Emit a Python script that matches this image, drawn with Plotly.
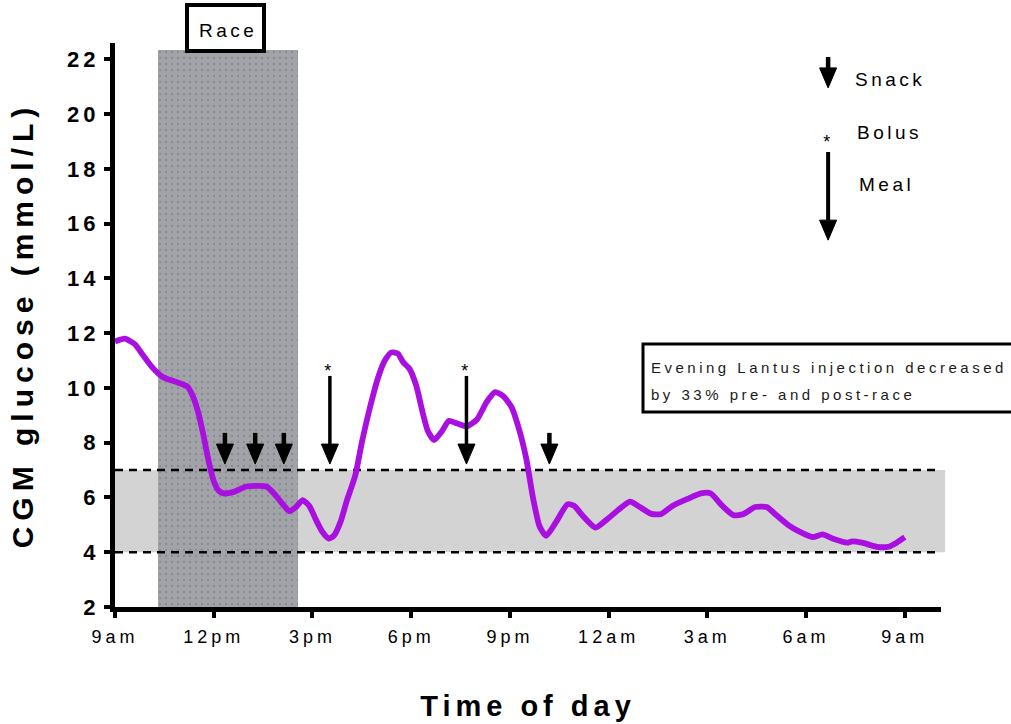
import plotly.graph_objects as go

# ---------------- data ----------------
# hours since 9am (day 1) and CGM glucose (mmol/L)
hours = [0.0, 0.3, 0.6, 0.85, 1.1, 1.45, 1.9, 2.2, 2.4, 2.55, 2.7, 2.85, 3.0, 3.15, 3.3,
         3.6, 4.0, 4.6, 4.9, 5.1, 5.3, 5.5, 5.7, 5.9, 6.1, 6.3, 6.5, 6.65, 6.85, 7.05,
         7.3, 7.5, 7.75, 8.0, 8.2, 8.4, 8.6, 8.75, 8.95, 9.15, 9.35, 9.5, 9.7, 9.95,
         10.15, 10.4, 10.7, 11.0, 11.3, 11.55, 11.8, 12.05, 12.3, 12.5, 12.7, 12.9,
         13.1, 13.4, 13.75, 13.95, 14.2, 14.6, 14.95, 15.3, 15.65, 15.95, 16.3, 16.6,
         16.95, 17.4, 17.8, 18.1, 18.45, 18.8, 19.1, 19.45, 19.8, 20.1, 20.45, 20.8,
         21.2, 21.5, 21.8, 22.25, 22.4, 22.7, 23.15, 23.5, 23.75, 24.0]
glucose = [11.7, 11.8, 11.6, 11.2, 10.8, 10.4, 10.2, 10.05, 9.6, 9.0, 8.2, 7.3, 6.6, 6.25, 6.15,
           6.2, 6.4, 6.4, 6.05, 5.75, 5.5, 5.65, 5.9, 5.7, 5.2, 4.75, 4.5, 4.6, 5.1, 5.9,
           6.8, 8.0, 9.3, 10.4, 11.0, 11.3, 11.25, 10.95, 10.7, 10.1, 9.1, 8.45, 8.1, 8.45,
           8.8, 8.7, 8.6, 8.85, 9.5, 9.85, 9.7, 9.3, 8.4, 7.4, 6.0, 4.95,
           4.6, 5.1, 5.75, 5.7, 5.35, 4.9, 5.2, 5.55, 5.85, 5.65, 5.4, 5.4,
           5.7, 5.95, 6.15, 6.15, 5.7, 5.35, 5.4, 5.65, 5.65, 5.35, 5.0, 4.75,
           4.55, 4.65, 4.5, 4.35, 4.4, 4.35, 4.2, 4.2, 4.35, 4.55]

snack_times = [3.34, 4.26, 5.13, 13.2]
meal_bolus_times = [6.53, 10.68]

race_start = 1.3
race_end = 5.56
race_top = 22.35

target_low = 4
target_high = 7

x_tick_vals = [0, 3, 6, 9, 12, 15, 18, 21, 24]
x_tick_text = ["9am", "12pm", "3pm", "6pm", "9pm", "12am", "3am", "6am", "9am"]
y_tick_vals = [2, 4, 6, 8, 10, 12, 14, 16, 18, 20, 22]

# ---------------- layout geometry ----------------
W, H = 1011, 724
ML, MR, MT, MB = 115, 70, 43, 117
X_RANGE = [0, 25.1]
Y_RANGE = [2, 22.6]
plot_w = W - ML - MR
plot_h = H - MT - MB
px_per_h = plot_w / (X_RANGE[1] - X_RANGE[0])
px_per_v = plot_h / (Y_RANGE[1] - Y_RANGE[0])

FONT = "Liberation Sans, Arial, sans-serif"
PURPLE = "#A80FE0"

head_len = 20 / px_per_v
head_half = 8.5 / px_per_h


def px_x(px):
    return (px - ML) / plot_w


def px_y(py):
    return (H - MB - py) / plot_h


def arrows(xs, tail, tip):
    sx, sy, hx, hy = [], [], [], []
    base = tip + head_len
    for x in xs:
        sx += [x, x, None]
        sy += [tail, base, None]
        hx += [x - head_half, x + head_half, x, x - head_half, None]
        hy += [base, base, tip, base, None]
    return sx, sy, hx, hy


fig = go.Figure()

# race period (dotted dark gray bar)
fig.add_trace(go.Bar(
    x=[(race_start + race_end) / 2], y=[race_top - Y_RANGE[0]], base=[Y_RANGE[0]],
    width=[race_end - race_start],
    marker=dict(color="#A2A2A9", line=dict(width=0),
                pattern=dict(shape=".", fgcolor="#727278", bgcolor="#A2A2A9",
                             size=6, solidity=0.12)),
    hoverinfo="skip", showlegend=False))

# dashed target limits
for lvl in [target_low, target_high]:
    fig.add_trace(go.Scatter(x=[X_RANGE[0], X_RANGE[1]], y=[lvl, lvl], mode="lines",
                             line=dict(color="black", width=2.5, dash="8px,6px"),
                             hoverinfo="skip", showlegend=False))

# glucose curve
fig.add_trace(go.Scatter(x=hours, y=glucose, mode="lines",
                         line=dict(color=PURPLE, width=5.8, shape="spline", smoothing=0.6),
                         showlegend=False))

tip_v = 7.22
snack_tail = 8.36
meal_tail = 10.44
legend_x = 21.67

# arrows: snacks and meals
for xs, tail, tip, w in [
    (snack_times, snack_tail, tip_v, 4.5),
    (meal_bolus_times, meal_tail, tip_v, 3.5),
    ([legend_x], 22.09, 20.96, 4.5),   # legend snack
    ([legend_x], 18.62, 15.4, 4),      # legend meal
]:
    sx, sy, hx, hy = arrows(xs, tail, tip)
    fig.add_trace(go.Scatter(x=sx, y=sy, mode="lines", line=dict(color="black", width=w),
                             hoverinfo="skip", showlegend=False))
    fig.add_trace(go.Scatter(x=hx, y=hy, mode="lines", fill="toself", fillcolor="black",
                             line=dict(color="black", width=1), hoverinfo="skip",
                             showlegend=False))

annotations = []
# bolus stars
for t, yv in [(meal_bolus_times[0], 10.2), (meal_bolus_times[1], 10.2), (legend_x, 18.55)]:
    annotations.append(dict(x=t, y=yv, xref="x", yref="y", text="*", showarrow=False,
                            font=dict(family=FONT, size=18, color="black"),
                            xanchor="center", yanchor="bottom"))

# legend labels
for txt, xv, yv in [("Snack", 22.43, 21.26), ("Bolus", 22.49, 19.33), ("Meal", 22.55, 17.42)]:
    annotations.append(dict(x=xv, y=yv, xref="x", yref="y", text=txt, showarrow=False,
                            font=dict(family=FONT, size=19, color="black"),
                            xanchor="left", yanchor="middle", align="left"))

# Race label
annotations.append(dict(x=px_x(228), y=px_y(30), xref="paper", yref="paper", text="Race",
                        showarrow=False, font=dict(family=FONT, size=19, color="black"),
                        xanchor="center", yanchor="middle"))

# Lantus note
for txt, py in [("Evening Lantus injection decreased", 367), ("by 33% pre- and post-race", 394)]:
    annotations.append(dict(x=px_x(649), y=px_y(py), xref="paper", yref="paper",
                            text=txt, showarrow=False, align="left",
                            font=dict(family=FONT, size=15, color="#1a1a1a"),
                            xanchor="left", yanchor="middle"))

shapes = [
    # target band
    dict(type="rect", xref="paper", yref="y", x0=0, x1=1.005, y0=target_low, y1=target_high,
         fillcolor="#D3D3D3", line=dict(width=0), layer="below"),
    # Race box
    dict(type="rect", xref="paper", yref="paper",
         x0=px_x(187), x1=px_x(264), y0=px_y(51), y1=px_y(5),
         line=dict(color="black", width=4), fillcolor="white", layer="above"),
    # Lantus box
    dict(type="rect", xref="paper", yref="paper",
         x0=px_x(643), x1=px_x(1025), y0=px_y(412), y1=px_y(344),
         line=dict(color="black", width=3), fillcolor="white", layer="below"),
]

fig.update_layout(
    width=W, height=H,
    margin=dict(l=ML, r=MR, t=MT, b=MB, pad=0),
    plot_bgcolor="white", paper_bgcolor="white",
    showlegend=False, bargap=0,
    annotations=annotations, shapes=shapes,
    font=dict(family=FONT, color="black"),
    xaxis=dict(range=X_RANGE, tickvals=x_tick_vals, ticktext=x_tick_text, automargin=False,
               showgrid=False, zeroline=False, showline=True, linecolor="black", linewidth=5,
               ticks="outside", ticklen=6, tickwidth=4, tickcolor="black",
               ticklabelstandoff=3,
               tickfont=dict(family=FONT, size=18, color="black"),
               title=dict(text="Time of day", standoff=52,
                          font=dict(family=FONT, size=29, color="black", weight="bold"))),
    yaxis=dict(range=Y_RANGE, tickvals=y_tick_vals, automargin=False,
               showgrid=False, zeroline=False, showline=True, linecolor="black", linewidth=5,
               ticks="outside", ticklen=6, tickwidth=4, tickcolor="black",
               tickfont=dict(family=FONT, size=22, color="black", weight="bold"),
               title=dict(text="CGM glucose (mmol/L)", standoff=34,
                          font=dict(family=FONT, size=30, color="black", weight="bold"))),
)

post = """
document.body.style.margin = '0';
var st = document.createElement('style');
st.textContent = '.xtick text{letter-spacing:4px} .ytick text{letter-spacing:4px} ' +
  '.xtitle{letter-spacing:5px} .ytitle{letter-spacing:6px} .annotation-text{letter-spacing:3.5px}';
document.head.appendChild(st);
"""

fig.write_html("out.html", post_script=post, config={"displayModeBar": False})
